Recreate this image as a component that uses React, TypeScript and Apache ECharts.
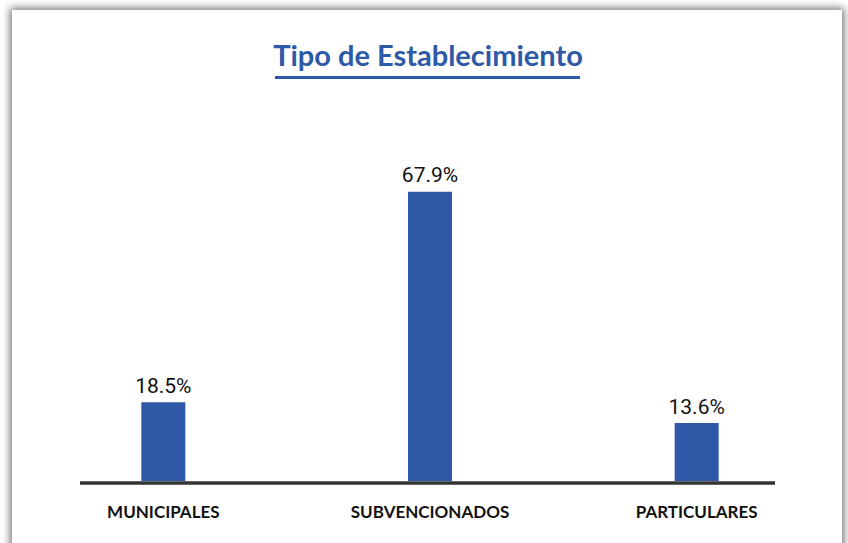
import React, { useEffect, useRef } from "react";
import * as echarts from "echarts";

const TITLE = "Tipo de Establecimiento";
const categories = ["MUNICIPALES", "SUBVENCIONADOS", "PARTICULARES"];
const values = [18.5, 67.9, 13.6];

const BLUE = "#2E59A7";

export default function App() {
  const ref = useRef<HTMLDivElement>(null);
  useEffect(() => {
    if (!ref.current) return;
    const chart = echarts.init(ref.current, null, { renderer: "svg" });
    chart.setOption({
      animation: false,
      backgroundColor: "transparent",
      title: {
        text: TITLE,
        left: 423,
        textAlign: "center",
        top: 35,
        textStyle: {
          fontFamily: "Lato, sans-serif",
          fontWeight: "bold",
          fontSize: 29,
          color: BLUE,
        },
      },
      graphic: [
        {
          type: "rect",
          shape: { x: 275, y: 76, width: 305, height: 3 },
          style: { fill: BLUE },
        },
        {
          type: "line",
          shape: { x1: 80, y1: 483, x2: 775, y2: 483 },
          style: { stroke: "#333333", lineWidth: 3.5 },
        },
      ],
      grid: { left: 30, right: 18, top: 55, bottom: 62 },
      xAxis: {
        type: "category",
        data: categories,
        axisLine: { show: false },
        axisTick: { show: false },
        axisLabel: {
          margin: 22,
          fontFamily: "Lato, sans-serif",
          fontWeight: "bold",
          fontSize: 17,
          color: "#111111",
        },
      },
      yAxis: {
        type: "value",
        min: 0,
        max: 100,
        show: false,
        splitLine: { show: false },
      },
      series: [
        {
          type: "bar",
          data: values,
          barWidth: 44,
          itemStyle: { color: BLUE },
          label: {
            show: true,
            position: "top",
            distance: 6,
            formatter: (p: any) => p.value.toFixed(1) + "%",
            fontFamily: "Roboto, sans-serif",
            fontSize: 21,
            color: "#111111",
          },
        },
      ],
    });
    return () => chart.dispose();
  }, []);

  return (
    <div style={{ position: "fixed", left: 0, top: 0, width: 848, height: 543, background: "#ffffff", overflow: "hidden" }}>
      <div
        style={{
          position: "absolute",
          left: 12,
          top: 10,
          width: 830,
          height: 560,
          background: "#ffffff",
          boxShadow: "0 0 8px 2px rgba(0,0,0,0.55)",
        }}
      />
      <div ref={ref} style={{ position: "absolute", left: 0, top: 0, width: 848, height: 543 }} />
    </div>
  );
}
